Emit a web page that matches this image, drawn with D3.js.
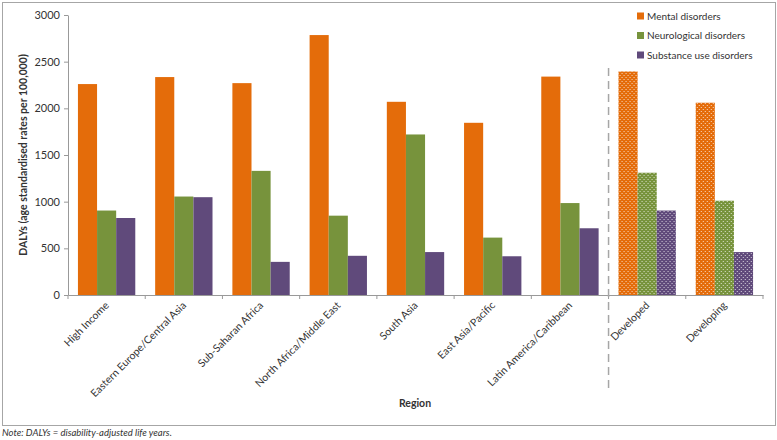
<!DOCTYPE html>
<html>
  <head>
    <meta charset="utf-8" />
    <script src="https://d3js.org/d3.v7.min.js"></script>
    <style>
      body { margin: 0; background: #fff; }
      text { font-family: Lato, "Open Sans", sans-serif; fill: #333; }
    </style>
  </head>
  <body>
    <div id="my_dataviz"></div>
    <script>
      // data
      var regions = ["High Income", "Eastern Europe/Central Asia", "Sub-Saharan Africa",
        "North Africa/Middle East", "South Asia", "East Asia/Pacific",
        "Latin America/Caribbean", "Developed", "Developing"];
      var patterned = ["Developed", "Developing"];
      var seriesNames = ["Mental disorders", "Neurological disorders", "Substance use disorders"];
      var mental = [2260, 2335, 2270, 2785, 2070, 1845, 2340, 2395, 2060];
      var neurological = [905, 1055, 1330, 850, 1720, 615, 985, 1310, 1010];
      var substance = [825, 1048, 355, 420, 460, 415, 715, 905, 460];
      var yTicks = [0, 500, 1000, 1500, 2000, 2500, 3000];
      var colors = ["#E46C0A", "#77933C", "#604A7B"];

      var W = 777, H = 440;
      var margin = { top: 15, left: 68, right: 14, bottom: 145 };

      var svg = d3.select("#my_dataviz").append("svg")
        .attr("width", W).attr("height", H);

      // dotted patterns for the aggregate groups
      var defs = svg.append("defs");
      colors.forEach(function (c, i) {
        var p = defs.append("pattern")
          .attr("id", "dots" + i)
          .attr("patternUnits", "userSpaceOnUse")
          .attr("width", 4).attr("height", 4);
        p.append("rect").attr("width", 4).attr("height", 4).attr("fill", c);
        p.append("rect").attr("x", 1).attr("y", 1).attr("width", 1).attr("height", 1).attr("fill", "#fff").attr("opacity", 0.75);
        p.append("rect").attr("x", 3).attr("y", 3).attr("width", 1).attr("height", 1).attr("fill", "#fff").attr("opacity", 0.75);
      });

      // outer frame
      svg.append("rect")
        .attr("x", 2.5).attr("y", 2.5)
        .attr("width", 773).attr("height", 423)
        .attr("fill", "none").attr("stroke", "#a6a6a6");

      var x = d3.scaleBand().domain(regions).range([margin.left, W - margin.right]);
      var x1 = d3.scaleBand().domain(seriesNames).range([0, x.bandwidth()]).paddingInner(0).paddingOuter(0.52);
      var y = d3.scaleLinear().domain([0, 3000]).range([295, 15]);

      var data = regions.map(function (r, i) {
        return { region: r, values: [mental[i], neurological[i], substance[i]] };
      });

      var groups = svg.selectAll(".grp").data(data).enter().append("g")
        .attr("transform", function (d) { return "translate(" + x(d.region) + ",0)"; });

      groups.selectAll("rect").data(function (d) {
        return d.values.map(function (v, j) {
          return { name: seriesNames[j], v: v, j: j, pat: patterned.indexOf(d.region) >= 0 };
        });
      }).enter().append("rect")
        .attr("x", function (d) { return x1(d.name); })
        .attr("width", x1.bandwidth())
        .attr("y", function (d) { return y(d.v); })
        .attr("height", function (d) { return y(0) - y(d.v); })
        .attr("fill", function (d) { return d.pat ? "url(#dots" + d.j + ")" : colors[d.j]; });

      // y axis
      var yAxis = svg.append("g")
        .attr("transform", "translate(" + margin.left + ",0)")
        .call(d3.axisLeft(y).tickValues(yTicks).tickFormat(d3.format("d")).tickSize(4).tickSizeOuter(0).tickPadding(4));
      yAxis.selectAll("line, path").attr("stroke", "#999");
      yAxis.selectAll("text").style("font-size", "11px").attr("fill", "#333");

      // x axis
      var xAxis = svg.append("g")
        .attr("transform", "translate(0," + y(0) + ")")
        .call(d3.axisBottom(x).tickSize(0).tickFormat(""));
      xAxis.selectAll("path").attr("stroke", "#999");
      // category boundary ticks
      var bounds = regions.map(function (r) { return x(r); }).concat([x(regions[regions.length - 1]) + x.bandwidth()]);
      svg.selectAll(".btick").data(bounds).enter().append("line")
        .attr("x1", function (d) { return d; }).attr("x2", function (d) { return d; })
        .attr("y1", y(0)).attr("y2", y(0) + 4)
        .attr("stroke", "#999");

      svg.selectAll(".xlab").data(regions).enter().append("text")
        .attr("transform", function (d) {
          return "translate(" + (x(d) + x.bandwidth() / 2 + 3) + "," + (y(0) + 11) + ") rotate(-45)";
        })
        .attr("text-anchor", "end")
        .style("font-size", "10.5px")
        .text(function (d) { return d; });

      // separator between regions and aggregates
      var sepX = x("Developed");
      svg.append("line")
        .attr("x1", sepX).attr("x2", sepX)
        .attr("y1", 68).attr("y2", 390)
        .attr("stroke", "#a6a6a6").attr("stroke-width", 1.5)
        .attr("stroke-dasharray", "8,5");

      // axis titles
      svg.append("text")
        .attr("transform", "translate(27," + 155 + ") rotate(-90)")
        .attr("text-anchor", "middle")
        .style("font-size", "10.5px").style("font-weight", "bold")
        .text("DALYs (age standardised rates per 100,000)");

      svg.append("text")
        .attr("x", 415).attr("y", 407)
        .attr("text-anchor", "middle")
        .style("font-size", "10.5px").style("font-weight", "bold")
        .text("Region");

      // legend
      var legend = svg.append("g").attr("transform", "translate(637,16)");
      seriesNames.forEach(function (n, i) {
        var g = legend.append("g").attr("transform", "translate(0," + i * 19.5 + ")");
        g.append("rect").attr("x", 0).attr("y", -3.5).attr("width", 7).attr("height", 7).attr("fill", colors[i]);
        g.append("text").attr("x", 10).attr("y", 3.5).style("font-size", "10px").text(n);
      });

      // note
      svg.append("text")
        .attr("x", 2).attr("y", 436)
        .style("font-size", "9.5px").style("font-style", "italic")
        .text("Note: DALYs = disability-adjusted life years.");
    </script>
  </body>
</html>
